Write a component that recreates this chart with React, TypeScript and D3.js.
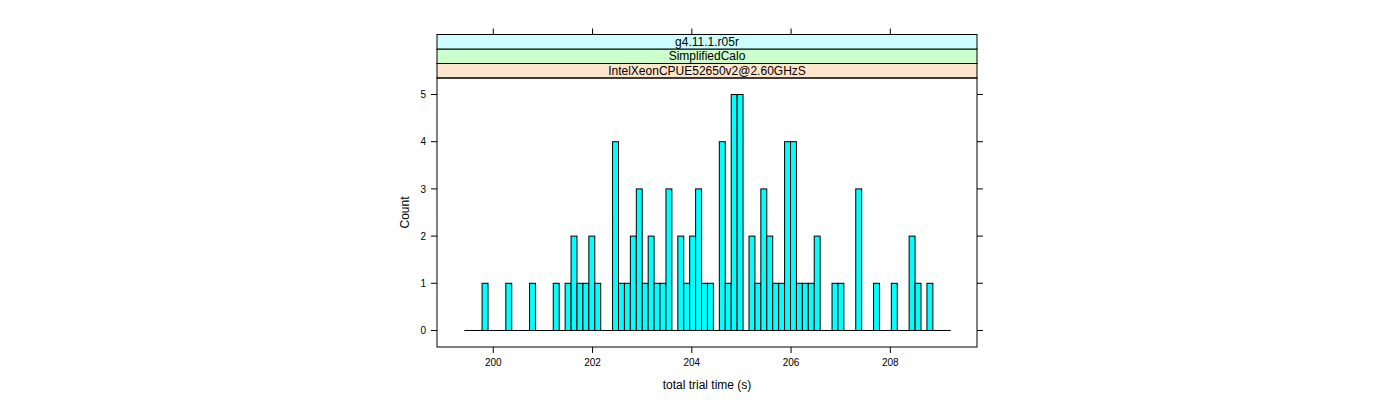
import React from "react";
import * as d3 from "d3";

const binStart = 199.416;
const binWidth = 0.1195;
const binCounts = [
  0, 0, 0, 1, 0, 0, 0, 1, 0, 0,
  0, 1, 0, 0, 0, 1, 0, 1, 2, 1,
  1, 2, 1, 0, 0, 4, 1, 1, 2, 3,
  1, 2, 1, 1, 3, 0, 2, 1, 2, 3,
  1, 1, 0, 4, 1, 5, 5, 0, 2, 1,
  3, 2, 1, 1, 4, 4, 1, 1, 1, 2,
  0, 0, 1, 1, 0, 0, 3, 0, 0, 1,
  0, 0, 1, 0, 0, 2, 1, 0, 1, 0,
  0, 0,
];
const xTicks = [200, 202, 204, 206, 208];
const yTicks = [0, 1, 2, 3, 4, 5];
const stripLabels = ["IntelXeonCPUE52650v2@2.60GHzS", "SimplifiedCalo", "g4.11.1.r05r"];
const stripColors = ["#FFE5CC", "#CCFFCC", "#CCFFFF"];
const xLabel = "total trial time (s)";
const yLabel = "Count";

export default function App() {
  const left = 437, right = 977, top = 78, bottom = 347;
  const stripH = 14.5;
  const x = d3.scaleLinear().domain([198.866, 209.746]).range([left, right]);
  const y = d3.scaleLinear().domain([-0.35, 5.35]).range([bottom, top]);
  const font = "'Liberation Sans', Arial, Helvetica, sans-serif";
  const nb = binCounts.length;
  return (
    <svg width={1400} height={400} style={{ position: "absolute", left: 0, top: 0, background: "#fff" }} fontFamily={font}>
      {/* strips */}
      {stripLabels.map((s, i) => {
        const sy = top - stripH * (i + 1);
        return (
          <g key={s}>
            <rect x={left} y={sy} width={right - left} height={stripH} fill={stripColors[i]} stroke="#000" strokeWidth={1} />
            <text x={(left + right) / 2} y={sy + stripH / 2 + 4} fontSize={12} textAnchor="middle" fill="#000">{s}</text>
          </g>
        );
      })}
      {/* panel border */}
      <rect x={left} y={top} width={right - left} height={bottom - top} fill="none" stroke="#000" strokeWidth={1} />
      {/* baseline */}
      <line x1={x(binStart)} x2={x(binStart + nb * binWidth)} y1={y(0)} y2={y(0)} stroke="#000" strokeWidth={1} />
      {/* bars */}
      {binCounts.map((c, i) =>
        c > 0 ? (
          <rect key={i} x={x(binStart + i * binWidth)} y={y(c)} width={x(binStart + (i + 1) * binWidth) - x(binStart + i * binWidth)} height={y(0) - y(c)} fill="#00FFFF" stroke="#000" strokeWidth={1} />
        ) : null
      )}
      {/* x ticks bottom & top */}
      {xTicks.map((t) => (
        <g key={t}>
          <line x1={x(t)} x2={x(t)} y1={bottom} y2={bottom + 6} stroke="#000" />
          <line x1={x(t)} x2={x(t)} y1={top - stripH * 3} y2={top - stripH * 3 - 6} stroke="#000" />
          <text x={x(t)} y={366} fontSize={10} textAnchor="middle" fill="#000">{t}</text>
        </g>
      ))}
      {/* y ticks left & right */}
      {yTicks.map((t) => (
        <g key={t}>
          <line x1={left} x2={left - 6} y1={y(t)} y2={y(t)} stroke="#000" />
          <line x1={right} x2={right + 6} y1={y(t)} y2={y(t)} stroke="#000" />
          <text x={426} y={y(t) + 3.6} fontSize={10} textAnchor="end" fill="#000">{t}</text>
        </g>
      ))}
      <text x={(left + right) / 2} y={389} fontSize={12} textAnchor="middle" fill="#000">{xLabel}</text>
      <text transform={`translate(409, ${(top + bottom) / 2}) rotate(-90)`} fontSize={12} textAnchor="middle" fill="#000">{yLabel}</text>
    </svg>
  );
}
